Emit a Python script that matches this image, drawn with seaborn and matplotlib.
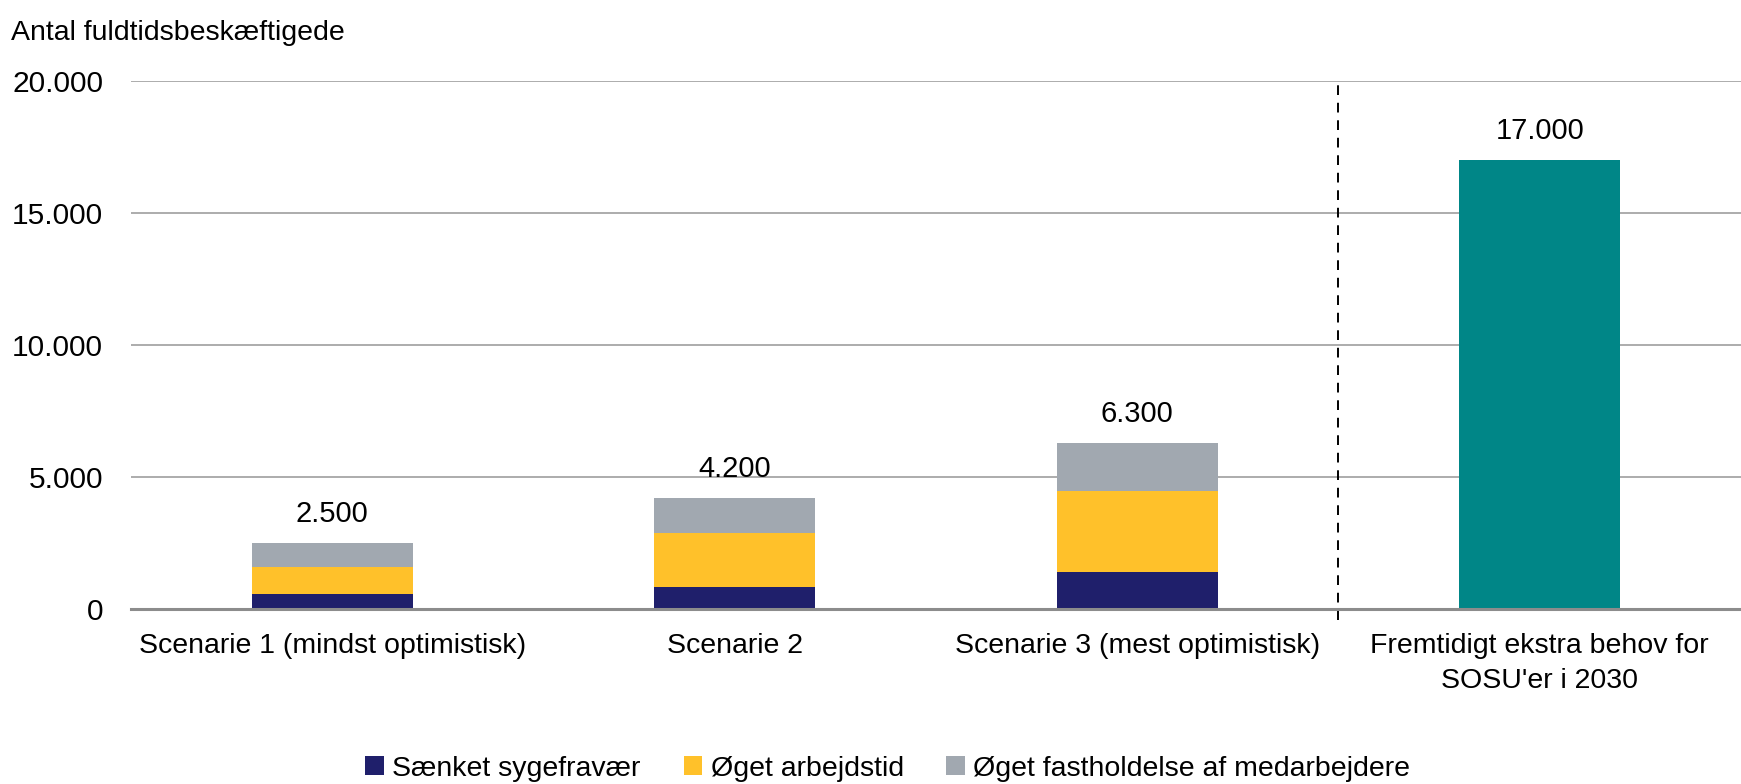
import matplotlib
matplotlib.use("Agg")
import matplotlib.pyplot as plt
from matplotlib import font_manager
from matplotlib.patches import Patch
from matplotlib.ticker import FixedLocator, FuncFormatter
import seaborn as sns
import numpy as np

# Data
categories = ["Scenarie 1 (mindst optimistisk)", "Scenarie 2",
              "Scenarie 3 (mest optimistisk)",
              "Fremtidigt ekstra behov for\nSOSU'er i 2030"]
sygefravaer = [600, 850, 1400, 0]
arbejdstid = [1000, 2050, 3100, 0]
fastholdelse = [900, 1300, 1800, 0]
behov = [0, 0, 0, 17000]
total_labels = ["2.500", "4.200", "6.300", "17.000"]
series_names = ["Sænket sygefravær", "Øget arbejdstid", "Øget fastholdelse af medarbejdere"]

navy = "#1f1f6b"
yellow = "#ffc12a"
grey = "#a1a8b0"
teal = "#008687"

sns.set_style("white")
names = {f.name for f in font_manager.fontManager.ttflist}
fam = [f for f in ["Liberation Sans Narrow", "Liberation Sans", "DejaVu Sans"] if f in names]
plt.rcParams["font.family"] = fam
plt.rcParams["text.color"] = "black"
plt.rcParams["xtick.color"] = "black"
plt.rcParams["ytick.color"] = "black"

fig = plt.figure(figsize=(17.41, 7.84), dpi=100)
ax = fig.add_axes([0.0752, 0.2226, 0.9248, 0.6741])

# stacked bars drawn back to front from cumulative sums
lvl1 = np.array(sygefravaer)
lvl2 = lvl1 + np.array(arbejdstid)
lvl3 = lvl2 + np.array(fastholdelse)
for vals, col in [(lvl3, grey), (lvl2, yellow), (lvl1, navy), (np.array(behov), teal)]:
    sns.barplot(x=categories, y=vals, color=col, width=0.4, linewidth=0,
                saturation=1, ax=ax, zorder=3)

tops = np.maximum(lvl3, np.array(behov))
for i, (t, lab) in enumerate(zip(tops, total_labels)):
    ax.annotate(lab, (i, t), xytext=(0, 11), textcoords="offset points",
                ha="center", va="bottom", fontsize=21, color="black")

ax.set_xlim(-0.5, 3.5)
ax.set_ylim(0, 20000)
ax.set_yticks([0, 5000, 10000, 15000, 20000])
ax.yaxis.set_major_formatter(FuncFormatter(lambda v, p: f"{int(v):,}".replace(",", ".")))
ax.grid(axis="y", color="#a6a6a6", linewidth=1.3, zorder=0)
ax.grid(axis="x", visible=False)
ax.set_axisbelow(True)

for s in ["top", "right", "left"]:
    ax.spines[s].set_visible(False)
ax.spines["bottom"].set_color("#8c8c8c")
ax.spines["bottom"].set_linewidth(2.2)
ax.spines["bottom"].set_zorder(4)

ax.xaxis.set_minor_locator(FixedLocator([-0.5, 0.5, 1.5, 2.5, 3.5]))
ax.tick_params(axis="x", which="major", length=0, pad=17, labelsize=20.5)
ax.tick_params(axis="x", which="minor", length=8, width=1.5, color="#8c8c8c")
ax.tick_params(axis="y", length=0, pad=20, labelsize=21.5)
for t in ax.get_xticklabels():
    t.set_linespacing(1.45)
ax.set_xlabel("")
ax.set_ylabel("")

# dashed divider before the demand bar
ax.plot([2.5, 2.5], [-400, 20000], color="black", linestyle=(0, (5, 4)),
        linewidth=1.4, clip_on=False, zorder=2)

fig.text(0.0063, 0.975, "Antal fuldtidsbeskæftigede", fontsize=20.5,
         ha="left", va="top")

handles = [Patch(facecolor=c, edgecolor="none") for c in [navy, yellow, grey]]
fig.legend(handles, series_names, loc="lower center", bbox_to_anchor=(0.51, -0.03),
           ncol=3, frameon=False, fontsize=20.5, handlelength=0.65, handleheight=0.65,
           handletextpad=0.3, columnspacing=1.5)

fig.savefig("out.png", dpi=100)
